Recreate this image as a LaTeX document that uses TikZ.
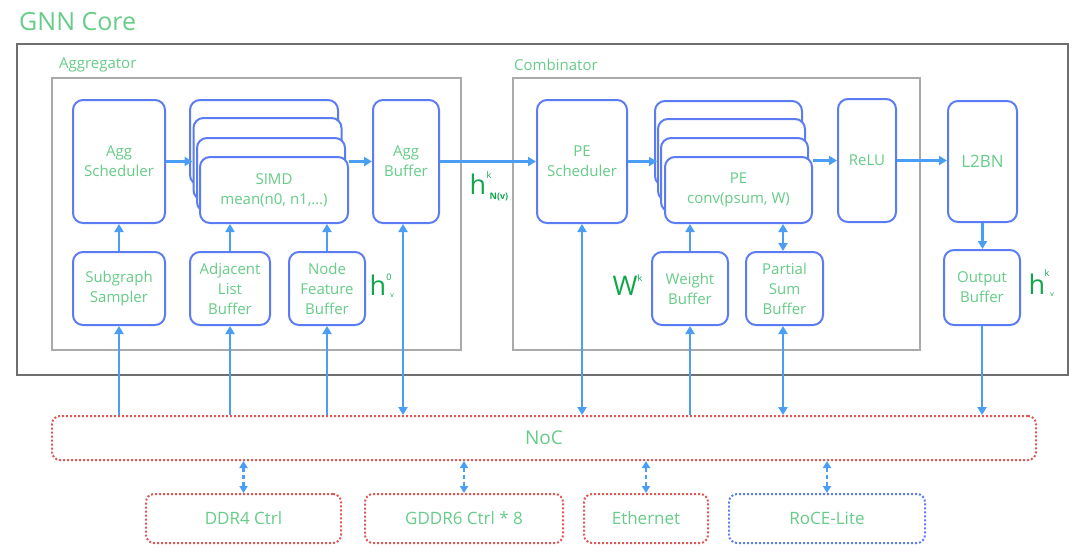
\documentclass[tikz,border=0pt]{standalone}
\usepackage{fontspec}
\setmainfont{Open Sans}
\usetikzlibrary{arrows.meta}
\definecolor{boxblue}{HTML}{5B7CF2}
\definecolor{arrblue}{HTML}{4A9EF6}
\definecolor{txtgreen}{HTML}{66CC88}
\definecolor{hgreen}{HTML}{10A64C}
\definecolor{nocred}{HTML}{E05555}
\definecolor{outergray}{HTML}{6E6E6E}
\definecolor{innergray}{HTML}{AAAAAA}
\tikzset{
  blk/.style={draw=boxblue, line width=2pt, rounded corners=10pt, fill=white,
    text=txtgreen, align=center, inner sep=0pt,
    font=\fontsize{15}{20}\selectfont},
  memblk/.style={draw=nocred, line width=2pt, dotted, rounded corners=8pt,
    text=txtgreen, inner sep=0pt, font=\fontsize{17}{20}\selectfont},
  arr/.style={draw=arrblue, line width=2.8pt, -{Triangle[length=8pt,width=9pt]}},
  barr/.style={draw=arrblue, line width=2.8pt, {Triangle[length=8pt,width=9pt]}-{Triangle[length=8pt,width=9pt]}},
  darr/.style={draw=arrblue, line width=2.4pt, dash pattern=on 4pt off 3pt,
    {Triangle[length=7pt,width=8pt]}-{Triangle[length=7pt,width=8pt]}},
  grp/.style={draw=innergray, line width=2pt},
  grplab/.style={text=txtgreen, anchor=west, inner sep=0pt, font=\fontsize{15}{17}\selectfont},
  hbig/.style={text=hgreen, inner sep=0pt, font=\fontsize{27}{27}\selectfont},
  hsmall/.style={text=hgreen, inner sep=0pt, font=\fontsize{9}{9}\selectfont},
}
\begin{document}
\begin{tikzpicture}[x=1pt,y=-1pt]
\useasboundingbox (0,0) rectangle (1088,560);
% title
\node[text=txtgreen, anchor=west, inner sep=0pt, font=\fontsize{25}{27}\selectfont] (title) at (19,22) {GNN Core};
% outer box
\draw[draw=outergray, line width=2pt] (17,44) rectangle (1068,375);
% groups
\draw[grp] (52,78) rectangle (461,350);
\node[grplab] (agglab) at (59,65) {Aggregator};
\draw[grp] (513,78) rectangle (920,350);
\node[grplab] (comblab) at (514,65) {Combinator};

% aggregator blocks
\node[blk, minimum width=92pt, minimum height=123pt] (aggsch) at (119,161.5) {Agg\\Scheduler};
\node[blk, minimum width=148pt, minimum height=85pt] (s1) at (264,142.5) {};
\node[blk, minimum width=148pt, minimum height=82pt] (s2) at (267.5,159) {};
\node[blk, minimum width=148pt, minimum height=74pt] (s3) at (271,175) {};
\node[blk, minimum width=148pt, minimum height=66pt] (simd) at (274,190) {SIMD\\mean(n0, n1,…)};
\node[blk, minimum width=66pt, minimum height=123pt] (aggbuf) at (406,161.5) {Agg\\Buffer};
\node[blk, minimum width=92pt, minimum height=73pt] (subg) at (119,288.5) {Subgraph\\Sampler};
\node[blk, minimum width=80pt, minimum height=73pt] (adj) at (230,288.5) {Adjacent\\List\\Buffer};
\node[blk, minimum width=76pt, minimum height=73pt] (nfb) at (327,288.5) {Node\\Feature\\Buffer};

% combinator blocks
\node[blk, minimum width=90pt, minimum height=123pt] (pesch) at (582,161.5) {PE\\Scheduler};
\node[blk, minimum width=147pt, minimum height=85pt] (p1) at (728.5,143.5) {};
\node[blk, minimum width=147pt, minimum height=82pt] (p2) at (731.5,160) {};
\node[blk, minimum width=147pt, minimum height=74pt] (p3) at (734.5,175) {};
\node[blk, minimum width=147pt, minimum height=66pt] (pe) at (738.5,190) {PE\\conv(psum, W)};
\node[blk, minimum width=58pt, minimum height=123pt] (relu) at (867,160.5) {ReLU};
\node[blk, minimum width=76pt, minimum height=73pt] (wbuf) at (690,288.5) {Weight\\Buffer};
\node[blk, minimum width=77pt, minimum height=73pt] (psbuf) at (784.5,288.5) {Partial\\Sum\\Buffer};

% output side
\node[blk, minimum width=69pt, minimum height=121pt, font=\fontsize{17}{19}\selectfont] (l2bn) at (982.5,161.5) {L2BN};
\node[blk, minimum width=76pt, minimum height=75pt] (outbuf) at (982,287.5) {Output\\Buffer};

% NoC and memory
\node[memblk, minimum width=984pt, minimum height=44pt, font=\fontsize{19}{21}\selectfont] (noc) at (544,438) {NoC};
\node[memblk, minimum width=195pt, minimum height=49pt] (ddr) at (243.5,518.5) {DDR4 Ctrl};
\node[memblk, minimum width=198pt, minimum height=49pt] (gddr) at (464,518.5) {GDDR6 Ctrl * 8};
\node[memblk, minimum width=124pt, minimum height=49pt] (eth) at (646,518.5) {Ethernet};
\node[memblk, draw=boxblue, minimum width=196pt, minimum height=49pt] (roce) at (827,518.5) {RoCE-Lite};

% labels
\node[hbig] (h1) at (478,184) {h};
\node[hsmall] (h1k) at (489,175) {k};
\node[hsmall, font=\bfseries\fontsize{9}{9}\selectfont] (h1n) at (499,197) {N(v)};
\node[hbig] (h0) at (378,285) {h};
\node[hsmall] (h0s) at (389,277) {0};
\node[hsmall, font=\fontsize{7}{7}\selectfont] (h0v) at (392,296) {v};
\node[hbig] (wk) at (625,286) {W};
\node[hsmall] (wks) at (640,278) {k};
\node[hbig] (hv) at (1037,284) {h};
\node[hsmall] (hvk) at (1047,273) {k};
\node[hsmall, font=\fontsize{7}{7}\selectfont] (hvv) at (1052,295) {v};

% connectors: aggregator
\draw[arr] (aggsch.east) -- (aggsch.east -| s2.west);
\draw[arr] (simd.east |- aggbuf.center) -- (aggbuf.west);
\draw[arr] (aggbuf.east) -- (pesch.west);
\draw[arr] (subg.north) -- (aggsch.south);
\draw[arr] (adj.north) -- (adj.north |- simd.south);
\draw[arr] (nfb.north) -- (nfb.north |- simd.south);
\draw[arr] (subg.south |- noc.north) -- (subg.south);
\draw[arr] (adj.south |- noc.north) -- (adj.south);
\draw[arr] (nfb.south |- noc.north) -- (nfb.south);
\draw[barr] ([xshift=-3pt]aggbuf.south) -- ([xshift=-3pt]aggbuf.south |- noc.north);

% connectors: combinator
\draw[barr] (pesch.south) -- (pesch.south |- noc.north);
\draw[arr] (pesch.east) -- (pesch.east -| p2.west);
\draw[arr] (pe.east |- relu.center) -- (relu.west);
\draw[arr] (relu.east) -- (relu.east -| l2bn.west);
\draw[arr] (wbuf.north) -- (wbuf.north |- pe.south);
\draw[arr] (wbuf.south |- noc.north) -- (wbuf.south);
\draw[barr] ([xshift=-1.5pt]psbuf.north) -- ([xshift=-1.5pt]psbuf.north |- pe.south);
\draw[barr] ([xshift=-1.5pt]psbuf.south) -- ([xshift=-1.5pt]psbuf.south |- noc.north);
\draw[arr] (l2bn.south) -- (l2bn.south |- outbuf.north);
\draw[arr] (outbuf.south) -- (outbuf.south |- noc.north);

% NoC to memory
\draw[darr] (noc.south -| ddr.north) -- (ddr.north);
\draw[darr] (noc.south -| gddr.north) -- (gddr.north);
\draw[darr] (noc.south -| eth.north) -- (eth.north);
\draw[darr] (noc.south -| roce.north) -- (roce.north);
\end{tikzpicture}
\end{document}
